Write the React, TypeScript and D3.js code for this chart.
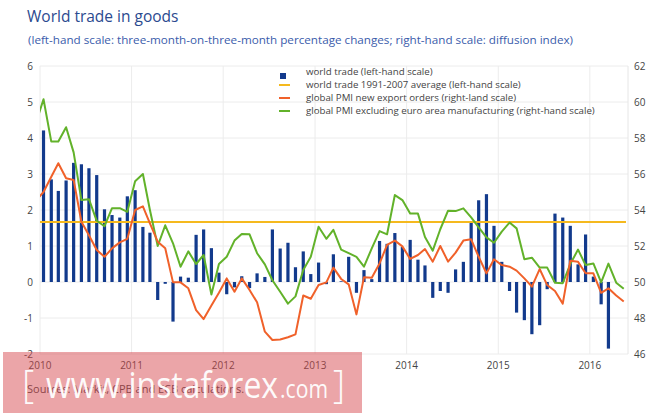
import React from "react";
import * as d3 from "d3";

// monthly observations; bars start Jan 2010, PMI lines start Dec 2009
const tradeStart = new Date(2010, 0, 15);
const pmiStart = new Date(2009, 11, 15);

// world trade, 3m-on-3m % change (left-hand scale)
const worldTrade = [
  4.21, 2.85, 2.53, 2.82, 3.31, 3.27, 3.16, 2.97, 2.02, 1.86, 1.79, 2.38,
  2.55, 1.53, 1.37, -0.5, -0.05, -1.1, 0.15, 0.12, 1.31, 1.46, 0.94, 0.26,
  -0.34, -0.15, 0.16, -0.17, 0.24, 0.14, 1.46, 0.93, 1.09, 0.41, 0.85, 0.22,
  0.54, -0.06, 0.77, 0.02, 0.7, -0.3, 0.33, 0.08, 1.14, 1.06, 1.36, 0.97,
  1.17, 0.62, 0.46, -0.44, -0.25, -0.3, 0.35, 0.56, 1.69, 2.27, 2.44, 1.56,
  0.56, -0.25, -0.85, -1.06, -1.45, -1.2, -0.2, 1.9, 1.79, 1.56, 0.49, 1.32,
  0.15, -0.62, -1.85,
];

// world trade 1991-2007 average (left-hand scale)
const tradeAverage = 1.67;

// global PMI new export orders (right-hand scale)
const pmiExport = [
  54.5,
  55.0, 55.85, 56.6, 55.76, 55.67, 53.35, 52.6, 51.78, 51.4, 51.87, 52.2, 52.4,
  54.0, 54.2, 53.26, 52.24, 51.87, 49.98, 49.98, 49.65, 48.44, 47.94, 48.7, 49.4,
  50.2, 49.46, 50.2, 49.56, 48.87, 47.24, 46.78, 46.81, 46.93, 47.09, 49.25, 49.07,
  49.83, 49.98, 50.8, 50.17, 49.87, 48.2, 50.26, 50.24, 51.03, 52.06, 52.3, 51.98,
  51.28, 51.5, 51.83, 51.13, 52.0, 51.13, 51.63, 52.3, 52.37, 51.4, 50.48, 51.26,
  50.94, 50.85, 50.63, 50.2, 49.74, 50.72, 49.83, 49.5, 48.8, 51.18, 51.12, 50.49,
  50.48, 49.4, 49.65, 49.25, 48.92,
];

// global PMI excluding euro area manufacturing (right-hand scale)
const pmiExEuro = [
  58.8,
  60.15, 57.8, 57.8, 58.6, 57.2, 54.55, 54.6, 53.4, 53.1, 54.1, 54.1, 53.9,
  55.6, 56.0, 54.0, 52.0, 53.15, 52.15, 50.85, 51.7, 51.0, 51.5, 49.3, 51.0,
  51.4, 52.3, 52.67, 52.65, 51.6, 50.98, 50.1, 49.46, 48.8, 49.2, 50.67, 51.4,
  53.07, 52.4, 52.9, 51.8, 51.6, 51.4, 50.85, 51.87, 52.83, 52.65, 54.83, 54.55,
  53.8, 53.8, 52.5, 51.74, 52.93, 53.96, 53.94, 54.09, 53.59, 53.04, 52.48, 52.18,
  52.8, 53.3, 52.98, 51.26, 51.35, 50.8, 50.8, 49.96, 49.93, 51.0, 51.8, 50.94,
  51.03, 49.98, 51.02, 49.96, 49.62,
];

const yearTicks = [2010, 2011, 2012, 2013, 2014, 2015, 2016];
const leftTicks = [-2, -1, 0, 1, 2, 3, 4, 5, 6];
const rightTicks = [46, 48, 50, 52, 54, 56, 58, 60, 62];

const legendItems = [
  { label: "world trade (left-hand scale)", color: "#123a8c", kind: "bar" },
  { label: "world trade 1991-2007 average (left-hand scale)", color: "#f5b91e", kind: "line" },
  { label: "global PMI new export orders (right-land scale)", color: "#f0612a", kind: "line" },
  { label: "global PMI excluding euro area manufacturing (right-hand scale)", color: "#62b22a", kind: "line" },
];

const font = "'Open Sans', sans-serif";

const monthAt = (start: Date, i: number) =>
  new Date(start.getFullYear(), start.getMonth() + i, 15);

export default function App() {
  const width = 665;
  const height = 416;
  const left = 40;
  const right = 628;
  const top = 66;
  const bottom = 354;

  const x = d3
    .scaleTime()
    .domain([new Date(2010, 0, 1), new Date(2016, 5, 1)])
    .range([left, right]);
  const yL = d3.scaleLinear().domain([-2, 6]).range([bottom, top]);
  const yR = d3.scaleLinear().domain([46, 62]).range([bottom, top]);

  const line = d3
    .line<number>()
    .x((_, i) => x(monthAt(pmiStart, i)))
    .y((d) => yR(d));

  const barW = 3.2;

  return (
    <svg
      width={width}
      height={height}
      viewBox={`0 0 ${width} ${height}`}
      style={{ position: "absolute", left: 0, top: 0, background: "#fff" }}
      fontFamily={font}
    >
      <defs>
        <clipPath id="plot">
          <rect x={left} y={0} width={right - left} height={height} />
        </clipPath>
      </defs>

      {/* title */}
      <text x={27} y={22} fontSize={15.5} fill="#2b4a8f">
        World trade in goods
      </text>
      <text x={28} y={44} fontSize={11} fill="#3a5cab" textLength={545} lengthAdjust="spacingAndGlyphs">
        (left-hand scale: three-month-on-three-month percentage changes; right-hand scale: diffusion index)
      </text>

      {/* grid */}
      {leftTicks.map((t) => (
        <line key={"h" + t} x1={left} x2={right} y1={yL(t)} y2={yL(t)} stroke="#ececec" strokeWidth={1} />
      ))}
      {yearTicks.map((yr) => (
        <line
          key={"v" + yr}
          x1={x(new Date(yr, 0, 1))}
          x2={x(new Date(yr, 0, 1))}
          y1={top}
          y2={bottom}
          stroke="#ececec"
          strokeWidth={1}
        />
      ))}
      <line x1={right} x2={right} y1={top} y2={bottom} stroke="#e6e6e6" />

      {/* axis labels */}
      {leftTicks.map((t) => (
        <text key={"l" + t} x={33} y={yL(t) + 3.5} fontSize={10} fill="#444" textAnchor="end">
          {t}
        </text>
      ))}
      {rightTicks.map((t) => (
        <text key={"r" + t} x={634} y={yR(t) + 3.5} fontSize={10} fill="#444">
          {t}
        </text>
      ))}
      {yearTicks.map((yr) => (
        <text key={"x" + yr} x={x(new Date(yr, 0, 1))} y={369} fontSize={10} fill="#444" textAnchor="middle">
          {yr}
        </text>
      ))}

      {/* bars */}
      {worldTrade.map((v, i) => {
        const cx = x(monthAt(tradeStart, i));
        const y0 = yL(0);
        const y1 = yL(v);
        return (
          <rect
            key={"b" + i}
            x={cx - barW / 2}
            y={Math.min(y0, y1)}
            width={barW}
            height={Math.abs(y1 - y0)}
            fill="#123a8c"
          />
        );
      })}

      {/* average line */}
      <line
        x1={left}
        x2={right - 2}
        y1={yL(tradeAverage)}
        y2={yL(tradeAverage)}
        stroke="#f5b91e"
        strokeWidth={2}
      />

      {/* PMI lines */}
      <g clipPath="url(#plot)" fill="none" strokeWidth={2} strokeLinejoin="round">
        <path d={line(pmiExEuro) ?? ""} stroke="#62b22a" />
        <path d={line(pmiExport) ?? ""} stroke="#f0612a" />
      </g>

      {/* legend */}
      {legendItems.map((item, i) => {
        const cy = 71 + i * 13;
        return (
          <g key={item.label}>
            {item.kind === "bar" ? (
              <rect x={280} y={cy + 2} width={6} height={6} fill={item.color} />
            ) : (
              <line x1={279} x2={290} y1={cy + 1} y2={cy + 1} stroke={item.color} strokeWidth={2} />
            )}
            <text x={306} y={cy + 3.5} fontSize={9.7} fill="#444">
              {item.label}
            </text>
          </g>
        );
      })}

      {/* source */}
      <text x={27} y={393} fontSize={11} fill="#444">
        Sources: Markit, CPB and ECB calculations.
      </text>

      {/* watermark */}
      <rect x={3} y={352} width={359} height={61} fill="rgb(214,71,77)" opacity={0.49} />
      <g fill="#fff" opacity={0.95}>
        <text x={22} y={398} fontSize={38} fontWeight={300}>
          [
        </text>
        <text x={46} y={398} fontSize={36} textLength={232} lengthAdjust="spacingAndGlyphs">
          www.instaforex
        </text>
        <text x={280} y={398} fontSize={25} textLength={48} lengthAdjust="spacingAndGlyphs">
          .com
        </text>
        <text x={333} y={398} fontSize={38} fontWeight={300}>
          ]
        </text>
      </g>
    </svg>
  );
}
